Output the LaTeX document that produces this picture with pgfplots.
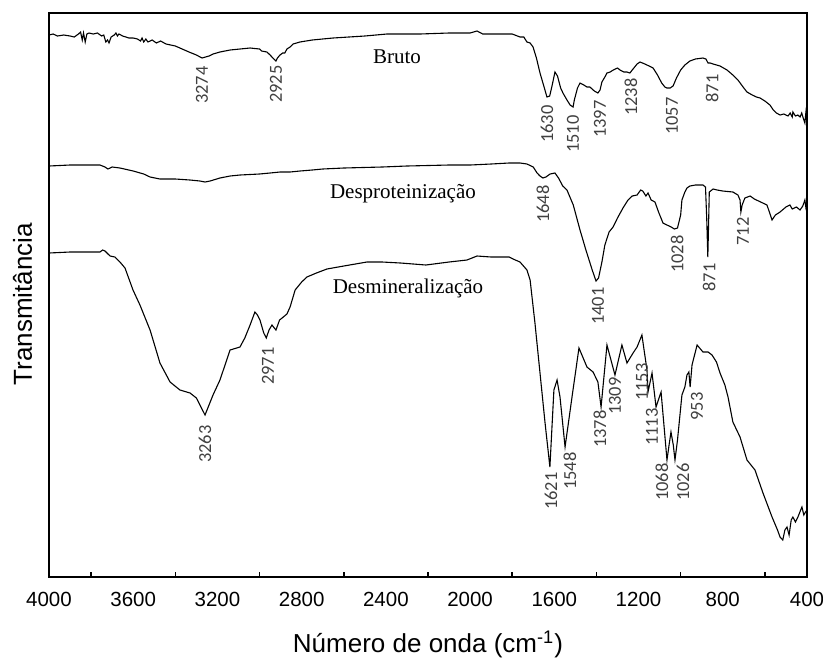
\documentclass[border=0pt]{standalone}
\usepackage{fontspec}
\setmainfont{Liberation Sans}
\newfontfamily\pkfont{Carlito}
\newfontfamily\namefont{Liberation Serif}
\usepackage{pgfplots}
\pgfplotsset{compat=1.18}

% wavenumber (cm^-1) vs. vertical position of each trace (offset spectra, no y scale)
\pgfplotstableread{
x y
4000 35
3980 34
3960 36
3930 35
3900 36
3880 37
3860 34
3850 32
3842 40
3836 33
3828 42
3820 34
3810 33
3790 34
3770 33
3750 36
3740 35
3730 42
3722 40
3715 43
3705 37
3690 35
3682 33
3675 36
3668 34
3650 36
3620 38
3600 38
3580 39
3565 41
3558 38
3550 42
3540 39
3530 42
3510 40
3490 43
3470 41
3444 44
3400 46
3335 52
3300 55
3273 58
3240 56
3221 54
3188 52
3140 50
3093 49
3045 48
3000 49
2990 51
2965 52
2950 55
2941 57
2922 61
2915 58
2903 55
2890 53
2880 53
2870 49
2855 47
2841 44
2808 42
2750 40
2651 38
2500 36
2395 34
2238 34
2100 33
2000 33
1967 31
1940 34
1900 34
1858 34
1800 34
1763 37
1745 37
1730 42
1715 43
1701 47
1685 58
1668 73
1650 86
1635 97
1622 96
1610 85
1597 72
1585 76
1570 88
1559 93
1540 100
1525 105
1511 107
1505 100
1490 88
1478 83
1460 85
1445 87
1431 87
1410 91
1393 93
1383 90
1374 82
1360 77
1350 73
1335 72
1320 70
1300 68
1288 70
1270 72
1255 72
1241 73
1230 70
1207 64
1193 62
1170 64
1150 66
1131 68
1110 75
1090 83
1075 87
1065 88
1050 88
1036 86
1020 78
1000 70
980 65
956 61
930 59
894 58
880 59
870 63
860 63
846 64
813 66
780 70
752 75
728 80
700 88
685 92
660 95
640 97
623 98
600 101
576 105
560 110
545 113
528 115
510 114
490 116
480 113
470 117
467 112
455 116
443 115
433 117
425 113
418 118
410 123
405 112
400 120
}\bruto

\pgfplotstableread{
x y
4000 166
3900 165
3800 165
3758 165
3734 167
3720 169
3700 167
3663 168
3600 171
3550 174
3520 177
3473 179
3400 179
3330 180
3283 181
3259 182
3235 181
3188 178
3140 176
3093 175
3000 174
2950 173
2903 172
2855 172
2808 171
2750 170
2700 169
2600 168
2418 167
2300 166
2100 165
2000 165
1900 164
1815 163
1763 163
1730 164
1700 167
1682 173
1668 176
1654 178
1640 177
1620 174
1597 173
1580 178
1560 186
1540 190
1510 205
1478 230
1450 250
1420 270
1402 281
1390 278
1374 262
1360 245
1340 232
1321 227
1300 218
1274 208
1250 200
1230 196
1207 195
1190 190
1180 191
1165 196
1155 193
1140 200
1122 202
1105 212
1084 223
1065 225
1045 227
1030 229
1015 228
1000 215
994 200
980 192
970 188
956 186
930 185
894 185
882 187
876 220
871 257
868 230
864 192
846 189
827 190
800 191
752 192
728 195
718 200
714 212
708 205
695 198
670 196
650 199
620 202
590 205
566 220
550 215
528 212
500 207
481 205
470 209
450 207
433 210
420 206
410 200
405 208
400 205
}\desprot

\pgfplotstableread{
x y
4000 253
3900 252
3800 252
3758 252
3745 250
3734 251
3710 256
3687 257
3663 262
3639 268
3601 290
3568 305
3520 330
3473 363
3425 382
3378 390
3330 393
3300 398
3283 405
3259 415
3240 405
3221 395
3188 380
3140 350
3093 347
3070 338
3045 325
3022 312
3010 315
2998 320
2980 333
2968 338
2955 330
2941 325
2930 328
2922 330
2905 320
2893 318
2870 314
2855 307
2831 290
2800 282
2775 277
2730 273
2680 269
2600 266
2490 262
2418 262
2330 263
2210 265
2100 262
2015 260
1967 256
1900 257
1815 257
1796 259
1763 262
1730 270
1715 280
1692 323
1668 373
1644 423
1621 467
1602 390
1587 380
1573 397
1549 447
1516 397
1483 348
1445 367
1416 372
1393 382
1378 407
1350 345
1312 375
1279 345
1255 363
1226 353
1207 347
1184 335
1160 370
1155 392
1136 373
1117 407
1093 392
1065 460
1055 445
1046 432
1035 445
1027 460
1015 440
994 395
980 387
970 375
961 372
955 387
946 365
922 345
910 348
894 352
870 352
851 355
830 362
813 373
790 385
775 397
752 422
718 437
685 460
647 470
609 493
566 517
540 530
528 537
515 540
505 530
495 527
485 535
475 520
467 517
455 522
443 517
430 510
424 507
415 515
410 513
400 510
}\desmin

\newcommand\pk[3]{\node[rotate=90,anchor=east,inner sep=0pt,text=black!75,
  font=\pkfont\fontsize{9.2}{11}\selectfont] at (axis cs:#1,#2) {#3};}

\begin{document}
\begin{tikzpicture}
\path[use as bounding box] (-24.5pt,-41.5pt) rectangle (387pt,288.5pt);
\begin{axis}[
  scale only axis, width=379pt, height=282pt,
  x dir=reverse, xmin=400, xmax=4000,
  y dir=reverse, ymin=13, ymax=577,
  ytick=\empty,
  xtick={4000,3600,...,400},
  minor xtick={3800,3400,...,600},
  xtick pos=left,
  tick align=inside,
  major tick length=0pt,
  minor tick length=2.6pt,
  axis line style={line width=1pt},
  every minor tick/.append style={line width=0.8pt, black},
  xticklabel style={font=\fontsize{10.25}{12}\selectfont, inner sep=0pt, yshift=-7.5pt},
  /pgf/number format/assume math mode=true,
  /pgf/number format/1000 sep={},
  xlabel={Número de onda (cm\textsuperscript{-1})},
  xlabel style={font=\fontsize{13}{15}\selectfont, at={([yshift=-37.5pt]axis description cs:0.5,0)}, anchor=base},
  ylabel={Transmitância},
  ylabel style={font=\fontsize{13}{15}\selectfont, at={([xshift=-8.5pt]axis description cs:0,0.484)}, anchor=base},
  clip=true,
]
\addplot[black, line width=0.55pt] table[x=x, y=y] {\bruto};
\addplot[black, line width=0.55pt] table[x=x, y=y] {\desprot};
\addplot[black, line width=0.55pt] table[x=x, y=y] {\desmin};

\node[anchor=base, font=\namefont\fontsize{10.5}{12}\selectfont] at (axis cs:2347,63) {Bruto};
\node[anchor=base, font=\namefont\fontsize{10.5}{12}\selectfont] at (axis cs:2319,198) {Desproteinização};
\node[anchor=base, font=\namefont\fontsize{10.5}{12}\selectfont] at (axis cs:2295,293) {Desmineralização};

\pk{3273}{66}{3274}
\pk{2922}{65}{2925}
\pk{1635}{105}{1630}
\pk{1511}{115}{1510}
\pk{1383}{100}{1397}
\pk{1236}{78}{1238}
\pk{1041}{97}{1057}
\pk{851}{74}{871}

\pk{1654}{185}{1648}
\pk{1393}{287}{1401}
\pk{1017}{235}{1028}
\pk{865}{263}{871}
\pk{704}{217}{712}

\pk{3259}{425}{3263}
\pk{2960}{347}{2971}
\pk{1616}{472}{1621}
\pk{1526}{452}{1548}
\pk{1383}{410}{1378}
\pk{1312}{377}{1309}
\pk{1184}{363}{1153}
\pk{1136}{408}{1113}
\pk{1089}{463}{1068}
\pk{989}{463}{1026}
\pk{922}{392}{953}
\end{axis}
\end{tikzpicture}
\end{document}
